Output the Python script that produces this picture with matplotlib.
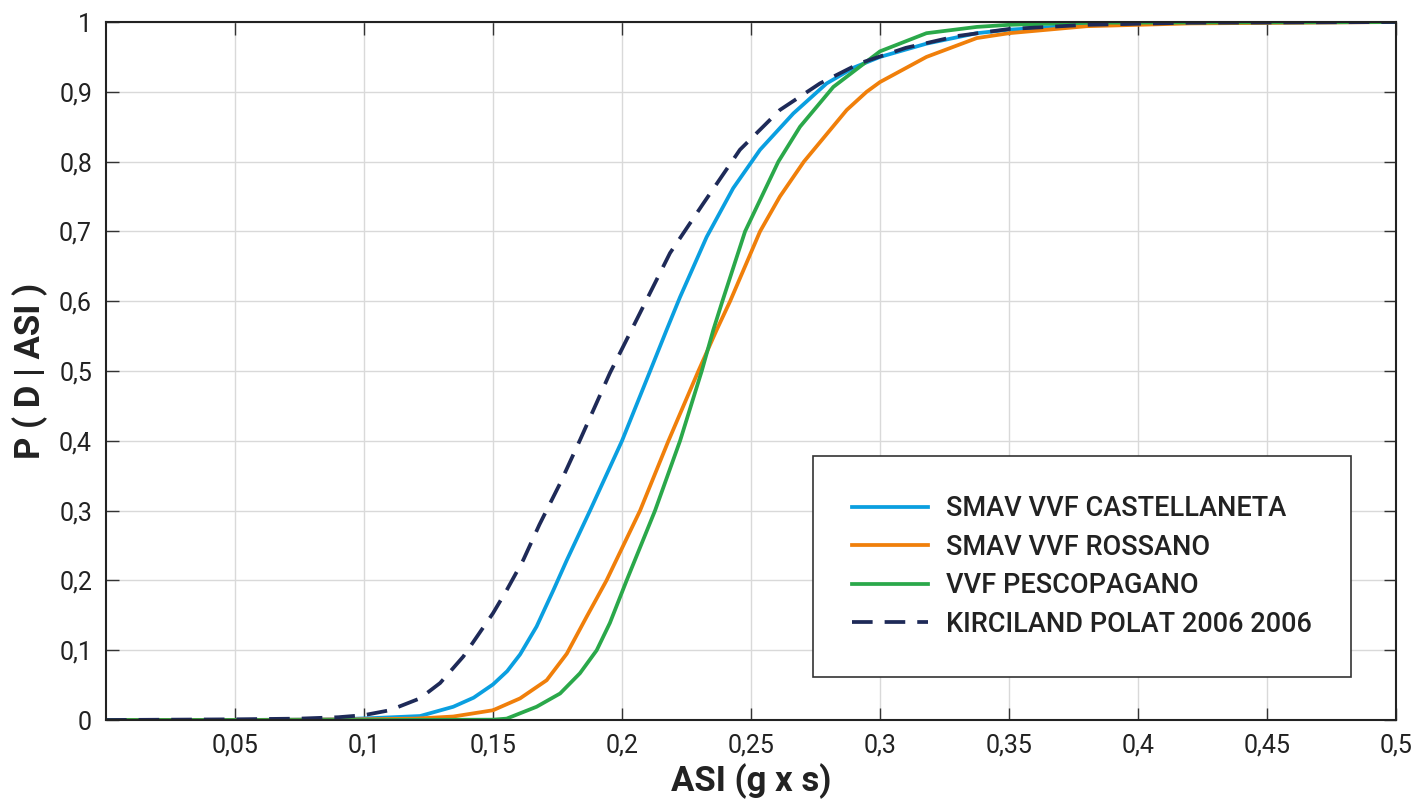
import matplotlib
matplotlib.use("Agg")
import matplotlib.pyplot as plt

# values
x_kirc = [0.0, 0.05, 0.075, 0.09, 0.1, 0.11, 0.1217, 0.1295, 0.1385, 0.15, 0.1553, 0.1617, 0.168, 0.176,
          0.1837, 0.1953, 0.2037, 0.2186, 0.2315, 0.2457, 0.2612, 0.2767, 0.2922, 0.31, 0.33, 0.35,
          0.38, 0.42, 0.5]
y_kirc = [0.0, 0.001, 0.002, 0.004, 0.007, 0.014, 0.031, 0.053, 0.091, 0.153, 0.186, 0.229, 0.28, 0.339,
          0.401, 0.497, 0.559, 0.669, 0.74, 0.817, 0.874, 0.912, 0.941, 0.963, 0.98, 0.99,
          0.996, 0.999, 1.0]

x_cast = [0.0, 0.05, 0.09, 0.105, 0.1217, 0.1346, 0.1425, 0.15, 0.1555, 0.1605, 0.1669, 0.1734, 0.1786,
          0.1876, 0.2, 0.2109, 0.2173, 0.2225, 0.2328, 0.2431, 0.2535, 0.2664, 0.2793, 0.29, 0.3, 0.318,
          0.3375, 0.35, 0.38, 0.42, 0.5]
y_cast = [0.0, 0.0, 0.001, 0.003, 0.0057, 0.019, 0.032, 0.051, 0.07, 0.094, 0.134, 0.186, 0.229,
          0.3, 0.4, 0.5, 0.559, 0.606, 0.692, 0.762, 0.817, 0.869, 0.912, 0.935, 0.95, 0.969,
          0.984, 0.989, 0.996, 0.999, 1.0]

x_ross = [0.0, 0.05, 0.1, 0.12, 0.1346, 0.15, 0.1605, 0.1708, 0.1786, 0.1863, 0.194, 0.207, 0.218,
          0.2296, 0.2367, 0.2419, 0.2535, 0.2612, 0.2705, 0.2871, 0.2948, 0.3, 0.318, 0.3375, 0.35,
          0.38, 0.42, 0.5]
y_ross = [0.0, 0.0, 0.001, 0.002, 0.005, 0.014, 0.031, 0.057, 0.095, 0.148, 0.2, 0.3, 0.4,
          0.5, 0.559, 0.6, 0.7, 0.75, 0.8, 0.874, 0.9, 0.914, 0.95, 0.977, 0.984,
          0.994, 0.998, 1.0]

x_pesc = [0.0, 0.1, 0.15, 0.1553, 0.1669, 0.176, 0.1837, 0.1902, 0.1953, 0.2018, 0.2128, 0.2225,
          0.2309, 0.2354, 0.2389, 0.2477, 0.2606, 0.269, 0.2819, 0.3, 0.318, 0.3375, 0.35, 0.38, 0.5]
y_pesc = [0.0, 0.0, 0.0005, 0.002, 0.019, 0.038, 0.067, 0.1, 0.139, 0.2, 0.3, 0.4,
          0.5, 0.559, 0.6, 0.7, 0.8, 0.85, 0.907, 0.958, 0.984, 0.993, 0.996, 0.999, 1.0]

labels = ["SMAV VVF CASTELLANETA", "SMAV VVF ROSSANO", "VVF PESCOPAGANO", "KIRCILAND POLAT 2006 2006"]
xticks = [0.05, 0.1, 0.15, 0.2, 0.25, 0.3, 0.35, 0.4, 0.45, 0.5]
yticks = [0, 0.1, 0.2, 0.3, 0.4, 0.5, 0.6, 0.7, 0.8, 0.9, 1]

plt.rcParams['font.family'] = ['Roboto', 'DejaVu Sans']

fig = plt.figure(figsize=(14.17, 8.01), dpi=100)
ax = fig.add_axes([0.0748, 0.1011, 0.9104, 0.8714])

ax.plot(x_cast, y_cast, color='#0a9fe0', lw=2.7, label=labels[0])
ax.plot(x_ross, y_ross, color='#f07f0a', lw=2.7, label=labels[1])
ax.plot(x_pesc, y_pesc, color='#2aa84a', lw=2.7, label=labels[2])
ax.plot(x_kirc, y_kirc, color='#1e2a58', lw=2.7, dashes=(5.5, 3.2), label=labels[3])

ax.set_xlim(0.0, 0.5)
ax.set_ylim(0, 1)
ax.set_xticks(xticks)
ax.set_xticklabels([('%g' % t).replace('.', ',') for t in xticks])
ax.set_yticks(yticks)
ax.set_yticklabels([('%g' % t).replace('.', ',') for t in yticks])
ax.tick_params(direction='in', length=9, width=1, colors='#333333', labelcolor='#222222',
               labelsize=18, top=True, right=True, pad=10)
ax.grid(True, color='#d9d9d9', lw=1)
ax.set_axisbelow(True)
for s in ax.spines.values():
    s.set_color('#222222')
    s.set_linewidth(1.5)

ax.set_xlabel('ASI (g x s)', fontsize=25, fontweight='bold', color='#222222', labelpad=4)
ax.set_ylabel('P ( D | ASI )', fontsize=25, fontweight='bold', color='#222222', labelpad=8)

leg = ax.legend(loc='upper left', bbox_to_anchor=(0.548, 0.378), borderaxespad=0, fontsize=19.5,
                handlelength=2.8, borderpad=1.45, labelspacing=0.42, handletextpad=0.65,
                fancybox=False, framealpha=1)
leg.get_frame().set_edgecolor('#333333')
leg.get_frame().set_linewidth(1.2)
for t in leg.get_texts():
    t.set_fontweight('medium')
    t.set_color('#222222')

fig.savefig('out.png', dpi=100)
